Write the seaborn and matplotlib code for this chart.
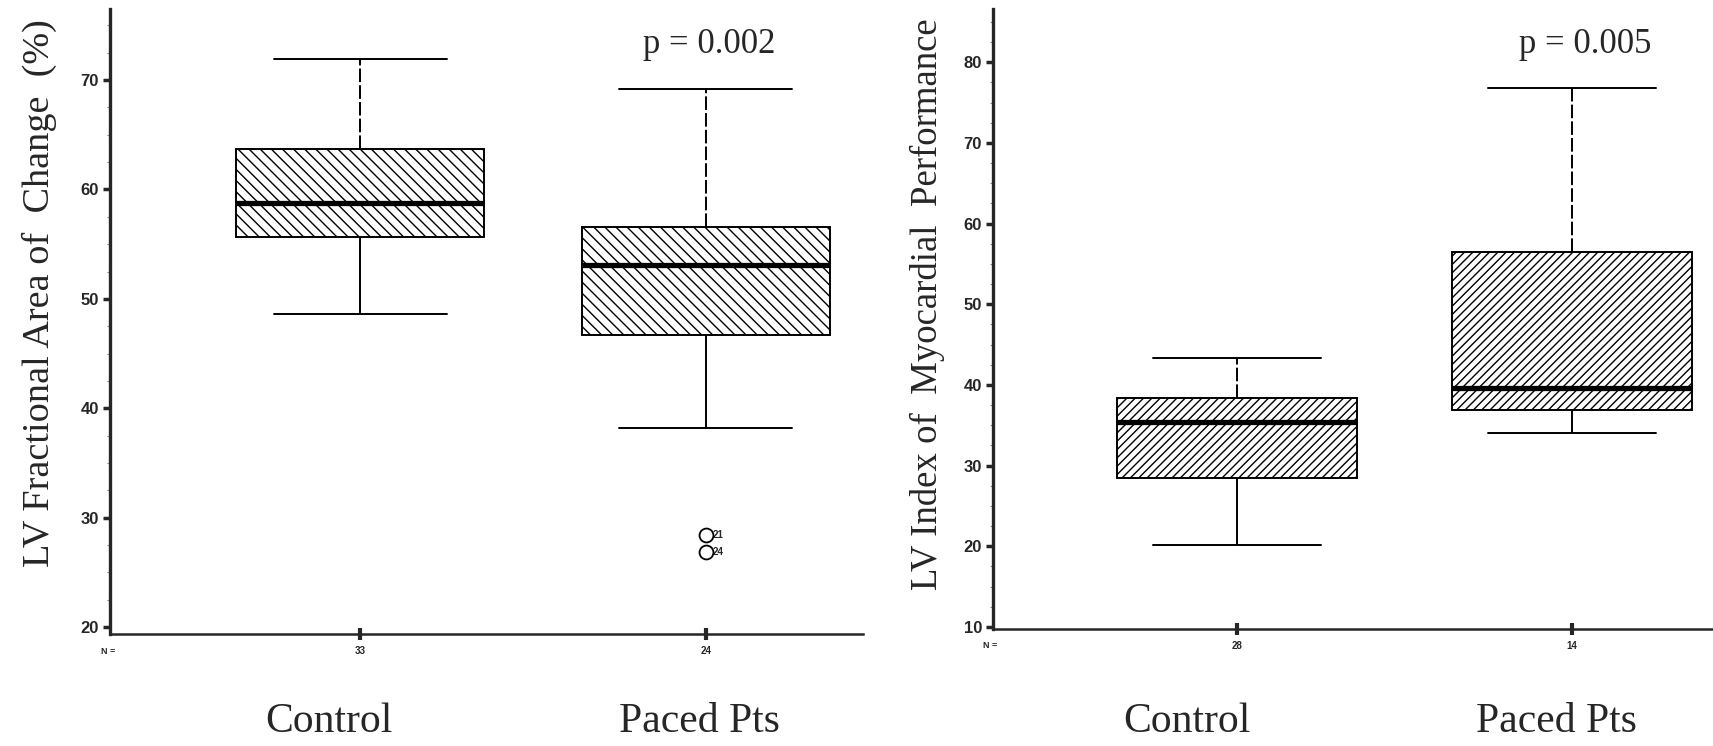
import numpy as np
import pandas as pd
import matplotlib
matplotlib.use("Agg")
import matplotlib.pyplot as plt
from matplotlib.ticker import AutoMinorLocator
from matplotlib import transforms
import seaborn as sns

# ---------------- data ----------------
groups = ["Control", "Paced Pts"]

# five-number summaries: lower whisker, Q1, median, Q3, upper whisker
fac_control = [48.6, 55.7, 58.8, 63.7, 71.9]
fac_paced = [38.2, 46.7, 53.1, 56.6, 69.2]
fac_outliers = [28.4, 26.9]
fac_outlier_ids = ["21", "24"]
fac_n = ["33", "24"]
fac_p = "p = 0.002"
fac_yticks = [20, 30, 40, 50, 60, 70]
fac_ylabel = "LV Fractional Area of  Change  (%)"

mpi_control = [20.2, 28.5, 35.4, 38.4, 43.3]
mpi_paced = [34.0, 36.9, 39.6, 56.5, 76.8]
mpi_n = ["28", "14"]
mpi_p = "p = 0.005"
mpi_yticks = [10, 20, 30, 40, 50, 60, 70, 80]
mpi_ylabel = "LV Index of  Myocardial  Performance"

# ---------------- style ----------------
sns.set_style("white")
plt.rcParams["font.family"] = ["Liberation Sans", "DejaVu Sans"]
plt.rcParams["hatch.linewidth"] = 1.0
SERIF = ["Liberation Serif", "DejaVu Serif"]

W, H = 1713, 746
fig = plt.figure(figsize=(W / 100, H / 100), dpi=100)
fig.patch.set_facecolor("white")


def px_axes(l, t, r, b):
    return fig.add_axes([l / W, 1 - b / H, (r - l) / W, (b - t) / H])


def draw_panel(ax, control, paced, hatch, n_labels, yticks, ylim, xlim,
               label_offsets, p_text, p_pos):
    df = pd.DataFrame({
        "group": [groups[0]] * len(control) + [groups[1]] * len(paced),
        "value": control + paced,
    })
    sns.boxplot(data=df, x="group", y="value", order=groups, ax=ax,
                whis=np.inf, width=0.715, color="white", linecolor="black",
                linewidth=1.4, fill=True, showfliers=False, capwidths=0.5,
                medianprops=dict(linewidth=3.8))
    for patch in ax.patches:
        patch.set_hatch(hatch)
        patch.set_facecolor("white")
        patch.set_edgecolor("black")
    # upper whiskers look broken / dashed in the original
    highs = [control[-1], paced[-1]]
    for line in ax.lines:
        x = np.asarray(line.get_xdata(), float)
        y = np.asarray(line.get_ydata(), float)
        if len(x) == 2 and np.isclose(x[0], x[1]) and any(np.isclose(y.max(), h) for h in highs):
            line.set_linestyle((0, (7, 1.6)))

    ax.set_xlim(*xlim)
    ax.set_ylim(*ylim)
    ax.set_yticks(yticks)
    ax.set_yticklabels([str(t) for t in yticks], fontsize=12, fontweight="bold")
    ax.yaxis.set_minor_locator(AutoMinorLocator(4))
    ax.tick_params(axis="y", which="major", direction="out", length=5, width=2.5,
                   pad=3, left=True)
    ax.tick_params(axis="y", which="minor", direction="out", length=2, width=0.8,
                   color="#888888", left=True)
    ax.set_xticks(range(len(groups)))
    ax.set_xticklabels(n_labels, fontsize=7, fontweight="bold")
    ax.tick_params(axis="x", direction="inout", length=9, width=3, pad=4, bottom=True)
    ax.set_xlabel("")
    ax.set_ylabel("")
    sns.despine(ax=ax)
    ax.spines["left"].set_linewidth(2.4)
    ax.spines["bottom"].set_linewidth(1.8)

    tr = transforms.blended_transform_factory(ax.transData, fig.transFigure)
    for i, g in enumerate(groups):
        ax.text(i + label_offsets[i], 1 - 732 / H, g, transform=tr, ha="center",
                va="baseline", fontsize=30, family=SERIF)
    ax.text(p_pos[0], p_pos[1], p_text, ha="center", va="baseline",
            fontsize=25, family=SERIF)


# ---------------- left panel ----------------
ax1 = px_axes(110, 9, 863, 634)
draw_panel(ax1, fac_control, fac_paced, "\\\\\\", fac_n, fac_yticks,
           (19.36, 76.5), (-0.723, 1.454), (-0.09, -0.02), fac_p, (1.01, 72.45))
sns.stripplot(x=[groups[1]] * len(fac_outliers), y=fac_outliers, order=groups,
              ax=ax1, jitter=False, size=10, color="white", edgecolor="black",
              linewidth=1.3, zorder=5)
for v, lab in zip(fac_outliers, fac_outlier_ids):
    ax1.annotate(lab, xy=(groups.index("Paced Pts"), v), xytext=(4.5, 0),
                 textcoords="offset points", fontsize=7, fontweight="bold",
                 va="center", ha="left")
ax1.set_xlim(-0.723, 1.454)
ax1.set_ylim(19.36, 76.5)
ax1.set_xlabel("")
ax1.set_ylabel("")
fig.text(39 / W, 1 - 293 / H, fac_ylabel, rotation=90, ha="center", va="center",
         fontsize=27.5, family=SERIF)
fig.text(108 / W, 1 - 652 / H, "N =", ha="center", va="center", fontsize=6.5,
         fontweight="bold")

# ---------------- right panel ----------------
ax2 = px_axes(993, 9, 1713, 629)
draw_panel(ax2, mpi_control, mpi_paced, "////", mpi_n, mpi_yticks,
           (9.75, 86.6), (-0.728, 1.421), (-0.15, -0.045), mpi_p, (1.04, 81.2))
fig.text(927 / W, 1 - 304 / H, mpi_ylabel, rotation=90, ha="center", va="center",
         fontsize=26.5, family=SERIF)
fig.text(990 / W, 1 - 646 / H, "N =", ha="center", va="center", fontsize=6.5,
         fontweight="bold")

fig.savefig("out.png", dpi=100, facecolor="white")
